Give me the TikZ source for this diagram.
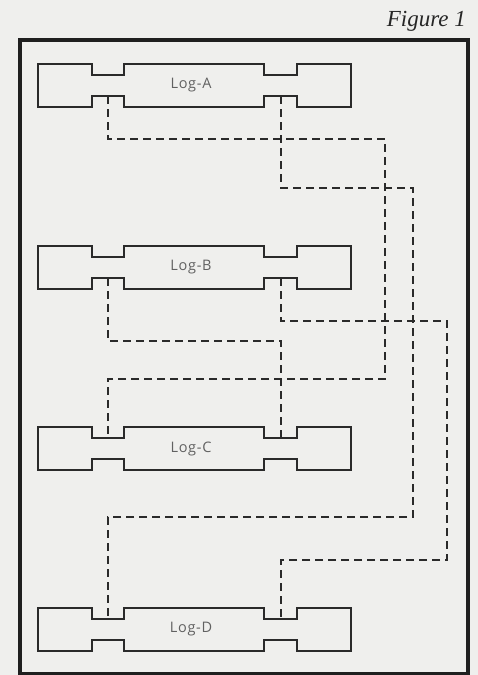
\documentclass[tikz,border=0pt]{standalone}
\usepackage{fontspec}
\setmainfont{Liberation Serif}
\newfontfamily\labelfont[LetterSpace=5]{Open Sans}
\definecolor{paper}{HTML}{EFEFED}
\definecolor{ink}{HTML}{2A2A2A}
\newcommand\drawlog[2]{%
  \draw[logline] (38,#2) -- (92,#2) -- (92,#2+11) -- (124,#2+11) -- (124,#2) -- (264,#2) -- (264,#2+11) -- (297,#2+11) -- (297,#2) -- (351,#2) -- (351,#2+43) -- (297,#2+43) -- (297,#2+32) -- (264,#2+32) -- (264,#2+43) -- (124,#2+43) -- (124,#2+32) -- (92,#2+32) -- (92,#2+43) -- (38,#2+43) -- cycle;
  \coordinate (#1-tl) at (108,#2+11);
  \coordinate (#1-tr) at (281,#2+11);
  \coordinate (#1-bl) at (108,#2+32);
  \coordinate (#1-br) at (281,#2+32);
  \node[loglabel] (#1) at (191,#2+21.5) {Log-#1};
}
\begin{document}
\begin{tikzpicture}[x=1pt,y=-1pt,
  logline/.style={draw=ink, line width=1.7pt, line join=miter},
  conn/.style={draw=ink, line width=2pt, dash pattern=on 8pt off 5pt},
  loglabel/.style={font=\labelfont\fontsize{14.5}{14.5}\selectfont, text=black!62, inner sep=0pt},
  framebox/.style={draw=black!88, line width=3.2pt}]
\fill[paper] (0,0) rectangle (478,675);
\useasboundingbox (0,0) rectangle (478,675);
\node[anchor=base east, inner sep=0pt, text=black!85, font=\itshape\fontsize{23}{23}\selectfont] (fig) at (466,26) {Figure 1};
\draw[framebox] (20,40) rectangle (468,674);
\drawlog{A}{64}
\drawlog{B}{246}
\drawlog{C}{427}
\drawlog{D}{608}
% connectors
\draw[conn] (A-bl) -- (108,139) -- (385,139) -- (385,379) -- (108,379) -- (C-tl);
\draw[conn] (A-br) -- (281,188) -- (413,188) -- (413,517) -- (108,517) -- (D-tl);
\draw[conn] (B-bl) -- (108,341) -- (281,341) -- (C-tr);
\draw[conn] (B-br) -- (281,321) -- (447,321) -- (447,560) -- (281,560) -- (D-tr);
\end{tikzpicture}
\end{document}
